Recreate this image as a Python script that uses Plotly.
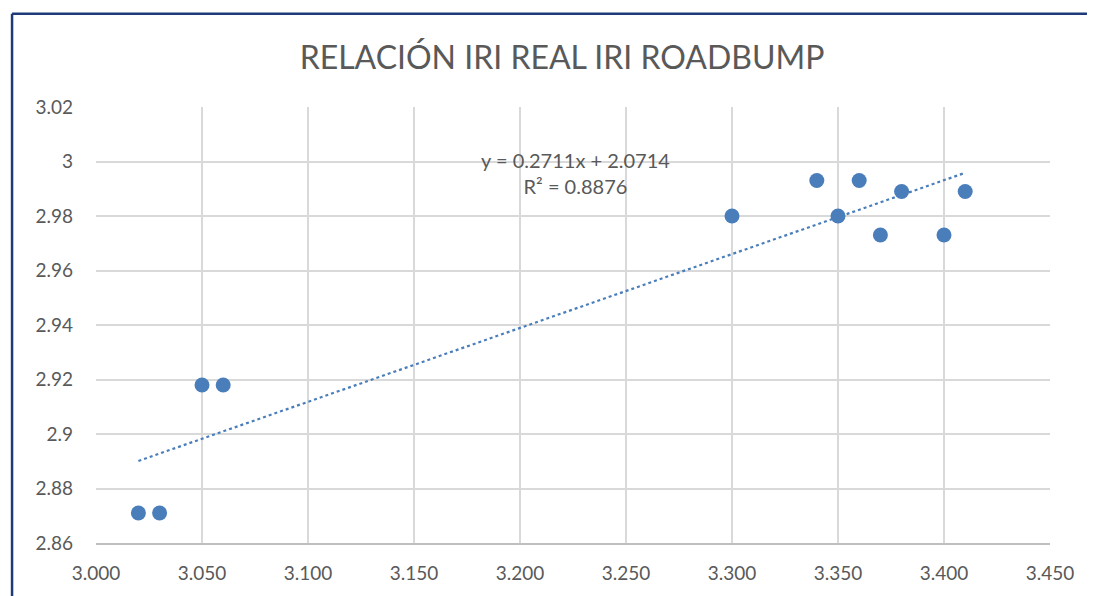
import plotly.graph_objects as go

# IRI real (x) vs IRI Roadbump (y)
iri_real = [3.020, 3.030, 3.050, 3.060, 3.300, 3.340, 3.350, 3.360, 3.370, 3.380, 3.400, 3.410]
iri_roadbump = [2.871, 2.871, 2.918, 2.918, 2.980, 2.993, 2.980, 2.993, 2.973, 2.989, 2.973, 2.989]

# linear trendline coefficients (as shown on chart)
slope = 0.2711
intercept = 2.0714
r2 = 0.8876

grey_text = '#595959'
grid = '#d9d9d9'
blue = '#4a7ebb'

trend_x = [min(iri_real), max(iri_real)]
trend_y = [slope * v + intercept for v in trend_x]

fig = go.Figure()

# Trendline (dotted)
fig.add_trace(go.Scatter(x=trend_x, y=trend_y, mode='lines', showlegend=False,
                         line=dict(color=blue, width=2.2, dash='dot'), hoverinfo='skip'))

# Data points
fig.add_trace(go.Scatter(x=iri_real, y=iri_roadbump, mode='markers', showlegend=False,
                         marker=dict(color=blue, size=15, line=dict(width=0))))

fig.add_annotation(x=3.2264, y=2.9958, xref='x', yref='y', showarrow=False,
                   text=f'y = {slope}x + {intercept}<br>R² = {r2}',
                   font=dict(family='Lato, Liberation Sans', size=20, color=grey_text),
                   align='center')

# outer frame lines (top and left, dark navy)
fig.add_shape(type='line', xref='paper', yref='paper', x0=-0.088, x1=1.06, y0=1.2136, y1=1.2136,
              line=dict(color='#1f3a78', width=2.5))
fig.add_shape(type='line', xref='paper', yref='paper', x0=-0.088, x1=-0.088, y0=-0.13, y1=1.2136,
              line=dict(color='#1f3a78', width=2.5))

# page body has an 8px margin, so the figure is shrunk by 8px to fit the window
fig.update_layout(
    width=1087, height=588,
    margin=dict(l=88, r=45, t=99, b=49),
    paper_bgcolor='white', plot_bgcolor='white',
    title=dict(text='RELACIÓN IRI REAL IRI ROADBUMP', x=0.5097, xanchor='center',
               y=0.915, yanchor='middle',
               font=dict(family='Lato, Liberation Sans', size=32, color=grey_text)),
    font=dict(family='Lato, Liberation Sans', size=19, color=grey_text),
)

fig.update_xaxes(range=[3.0, 3.45], dtick=0.05, tick0=3.0, tickformat='.3f',
                 showgrid=True, gridcolor=grid, gridwidth=1.5,
                 showline=True, linecolor='#bfbfbf', linewidth=1.5, mirror=False,
                 zeroline=False, ticks='', ticklabelstandoff=12,
                 tickfont=dict(size=19, color=grey_text))
fig.update_yaxes(range=[2.86, 3.02], dtick=0.02, tick0=2.86, tickformat='~g',
                 showgrid=True, gridcolor=grid, gridwidth=1.5,
                 showline=False, zeroline=False, ticks='', ticklabelstandoff=22,
                 tickfont=dict(size=19, color=grey_text))

fig.write_html("out.html")
